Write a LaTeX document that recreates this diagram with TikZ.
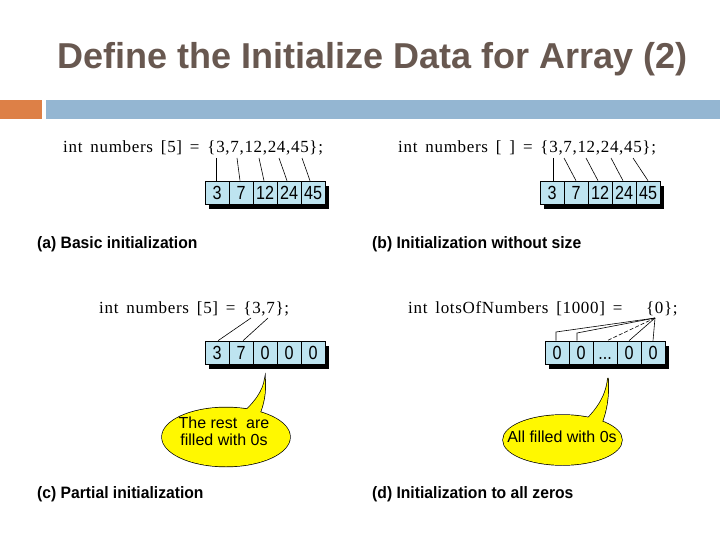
\documentclass[tikz,border=0pt]{standalone}
\usepackage{fontspec}
\usepackage{graphicx}
\setmainfont{Liberation Sans}
\newfontfamily\codefont[LetterSpace=4,WordSpace=1.6]{Liberation Serif}
\definecolor{titlecol}{RGB}{104,88,80}
\definecolor{barorange}{RGB}{221,128,71}
\definecolor{barblue}{RGB}{148,182,210}
\definecolor{cellblue}{RGB}{190,228,240}
\definecolor{bubyellow}{RGB}{255,248,0}
\newcommand{\narrow}[1]{\scalebox{0.85}[1]{#1}}
\newcommand{\capnarrow}[1]{\scalebox{0.95}[1]{#1}}
\begin{document}
\begin{tikzpicture}[x=1pt,y=-1pt,
  cell/.style={draw=black,line width=0.6pt,fill=cellblue,minimum width=24pt,minimum height=23pt,inner sep=0pt,text height=13.5pt,text depth=0pt,font=\fontsize{19}{19}\selectfont},
  code/.style={anchor=base west,inner sep=0pt,font=\codefont\fontsize{17}{17}\selectfont},
  caption/.style={anchor=base west,inner sep=0pt,font=\bfseries\fontsize{16.5}{18}\selectfont},
  link/.style={draw=black,line width=0.6pt},
  bubtext/.style={align=center,inner sep=0pt,font=\fontsize{16}{17}\selectfont}]
\useasboundingbox (0,0) rectangle (720,540);
% title and bars
\node[anchor=base west,inner sep=0pt,text=titlecol,font=\bfseries\fontsize{36}{40}\selectfont] (title) at (57,69) {Define the Initialize Data for Array (2)};
\fill[barorange] (0,100) rectangle (42,119);
\fill[barblue] (46,100) rectangle (720,119);

% ---------- (a)
\node[code] (codea) at (63,153) {int numbers [5] = \{3,7,12,24,45\};};
\fill[black] (209,186) rectangle (329,209);
\node[cell] (a1) at (217,192.5) {\narrow{3}};
\node[cell] (a2) at (241,192.5) {\narrow{7}};
\node[cell] (a3) at (265,192.5) {\narrow{12}};
\node[cell] (a4) at (289,192.5) {\narrow{24}};
\node[cell] (a5) at (313,192.5) {\narrow{45}};
\coordinate (ta1) at (216,158);
\coordinate (ta2) at (237,158);
\coordinate (ta3) at (259,158);
\coordinate (ta4) at (279,158);
\coordinate (ta5) at (302,158);
\draw[link] (ta1) -- ([xshift=-1pt]a1.north);
\draw[link] (ta2) -- ([xshift=-1pt]a2.north);
\draw[link] (ta3) -- ([xshift=-1pt]a3.north);
\draw[link] (ta4) -- ([xshift=-2pt]a4.north);
\draw[link] (ta5) -- ([xshift=-3pt]a5.north);
\node[caption] (capa) at (37,248) {\capnarrow{(a) Basic initialization}};

% ---------- (b)
\node[code] (codeb) at (398,153) {int numbers [ ] = \{3,7,12,24,45\};};
\fill[black] (544,186) rectangle (664,209);
\node[cell] (b1) at (552,192.5) {\narrow{3}};
\node[cell] (b2) at (576,192.5) {\narrow{7}};
\node[cell] (b3) at (600,192.5) {\narrow{12}};
\node[cell] (b4) at (624,192.5) {\narrow{24}};
\node[cell] (b5) at (648,192.5) {\narrow{45}};
\coordinate (tb1) at (553,158);
\coordinate (tb2) at (564,158);
\coordinate (tb3) at (586,158);
\coordinate (tb4) at (611,158);
\coordinate (tb5) at (633,158);
\draw[link] (tb1) -- ([xshift=1pt]b1.north);
\draw[link] (tb2) -- (b2.north);
\draw[link] (tb3) -- ([xshift=-2pt]b3.north);
\draw[link] (tb4) -- ([xshift=-1pt]b4.north);
\draw[link] (tb5) -- (b5.north);
\node[caption] (capb) at (372,248) {\capnarrow{(b) Initialization without size}};

% ---------- (c)
\node[code] (codec) at (99,313) {int numbers [5] = \{3,7\};};
\fill[black] (209,346) rectangle (329,369);
\node[cell] (c1) at (217,352.5) {\narrow{3}};
\node[cell] (c2) at (241,352.5) {\narrow{7}};
\node[cell] (c3) at (265,352.5) {\narrow{0}};
\node[cell] (c4) at (289,352.5) {\narrow{0}};
\node[cell] (c5) at (313,352.5) {\narrow{0}};
\coordinate (tc1) at (251,318);
\coordinate (tc2) at (268,318);
\draw[link] (tc1) -- ([xshift=1pt]c1.north);
\draw[link] (tc2) -- ([xshift=2pt]c2.north);
\node[caption] (capc) at (37,498) {\capnarrow{(c) Partial initialization}};

% callout (c)
\draw[line width=1.4pt] (226,437) ellipse [x radius=64, y radius=29.5];
\draw[line width=1.4pt] (240,416) .. controls (255,402) and (263,392) .. (265,378) .. controls (266,393) and (264,404) .. (258,418) -- cycle;
\fill[bubyellow] (226,437) ellipse [x radius=64, y radius=29.5];
\fill[bubyellow] (240,416) .. controls (255,402) and (263,392) .. (265,378) .. controls (266,393) and (264,404) .. (258,418) -- cycle;
\node[bubtext] (bubc) at (224,431) {The rest~~are\\filled with 0s};

% ---------- (d)
\node[code] (coded) at (408,313) {int lotsOfNumbers [1000] =~~~\{0\};};
\fill[black] (549,346) rectangle (669,369);
\node[cell] (d1) at (557,352.5) {\narrow{0}};
\node[cell] (d2) at (581,352.5) {\narrow{0}};
\node[cell] (d3) at (605,352.5) {\narrow{...}};
\node[cell] (d4) at (629,352.5) {\narrow{0}};
\node[cell] (d5) at (653,352.5) {\narrow{0}};
\coordinate (td) at (655,318);
\coordinate (k1) at (556,332);
\coordinate (k2) at (577,333);
\draw[link] (td) -- (k1) -- (k1 |- d1.north);
\draw[link] (td) -- (k2) -- (k2 |- d2.north);
\draw[link,dashed,dash pattern=on 4pt off 2pt] (td) -- ([xshift=2pt]d3.north);
\draw[link] (td) -- (d4.north);
\draw[link] (td) -- (d5.north);
\node[caption] (capd) at (372,498) {\capnarrow{(d) Initialization to all zeros}};

% callout (d)
\draw[line width=1.4pt] (562.5,440) ellipse [x radius=59.5, y radius=25];
\draw[line width=1.4pt] (585,421) .. controls (598,408) and (606,396) .. (608,378) .. controls (609,396) and (607,410) .. (601,425) -- cycle;
\fill[bubyellow] (562.5,440) ellipse [x radius=59.5, y radius=25];
\fill[bubyellow] (585,421) .. controls (598,408) and (606,396) .. (608,378) .. controls (609,396) and (607,410) .. (601,425) -- cycle;
\node[bubtext] (bubd) at (562,437) {All filled with 0s};
\end{tikzpicture}
\end{document}
